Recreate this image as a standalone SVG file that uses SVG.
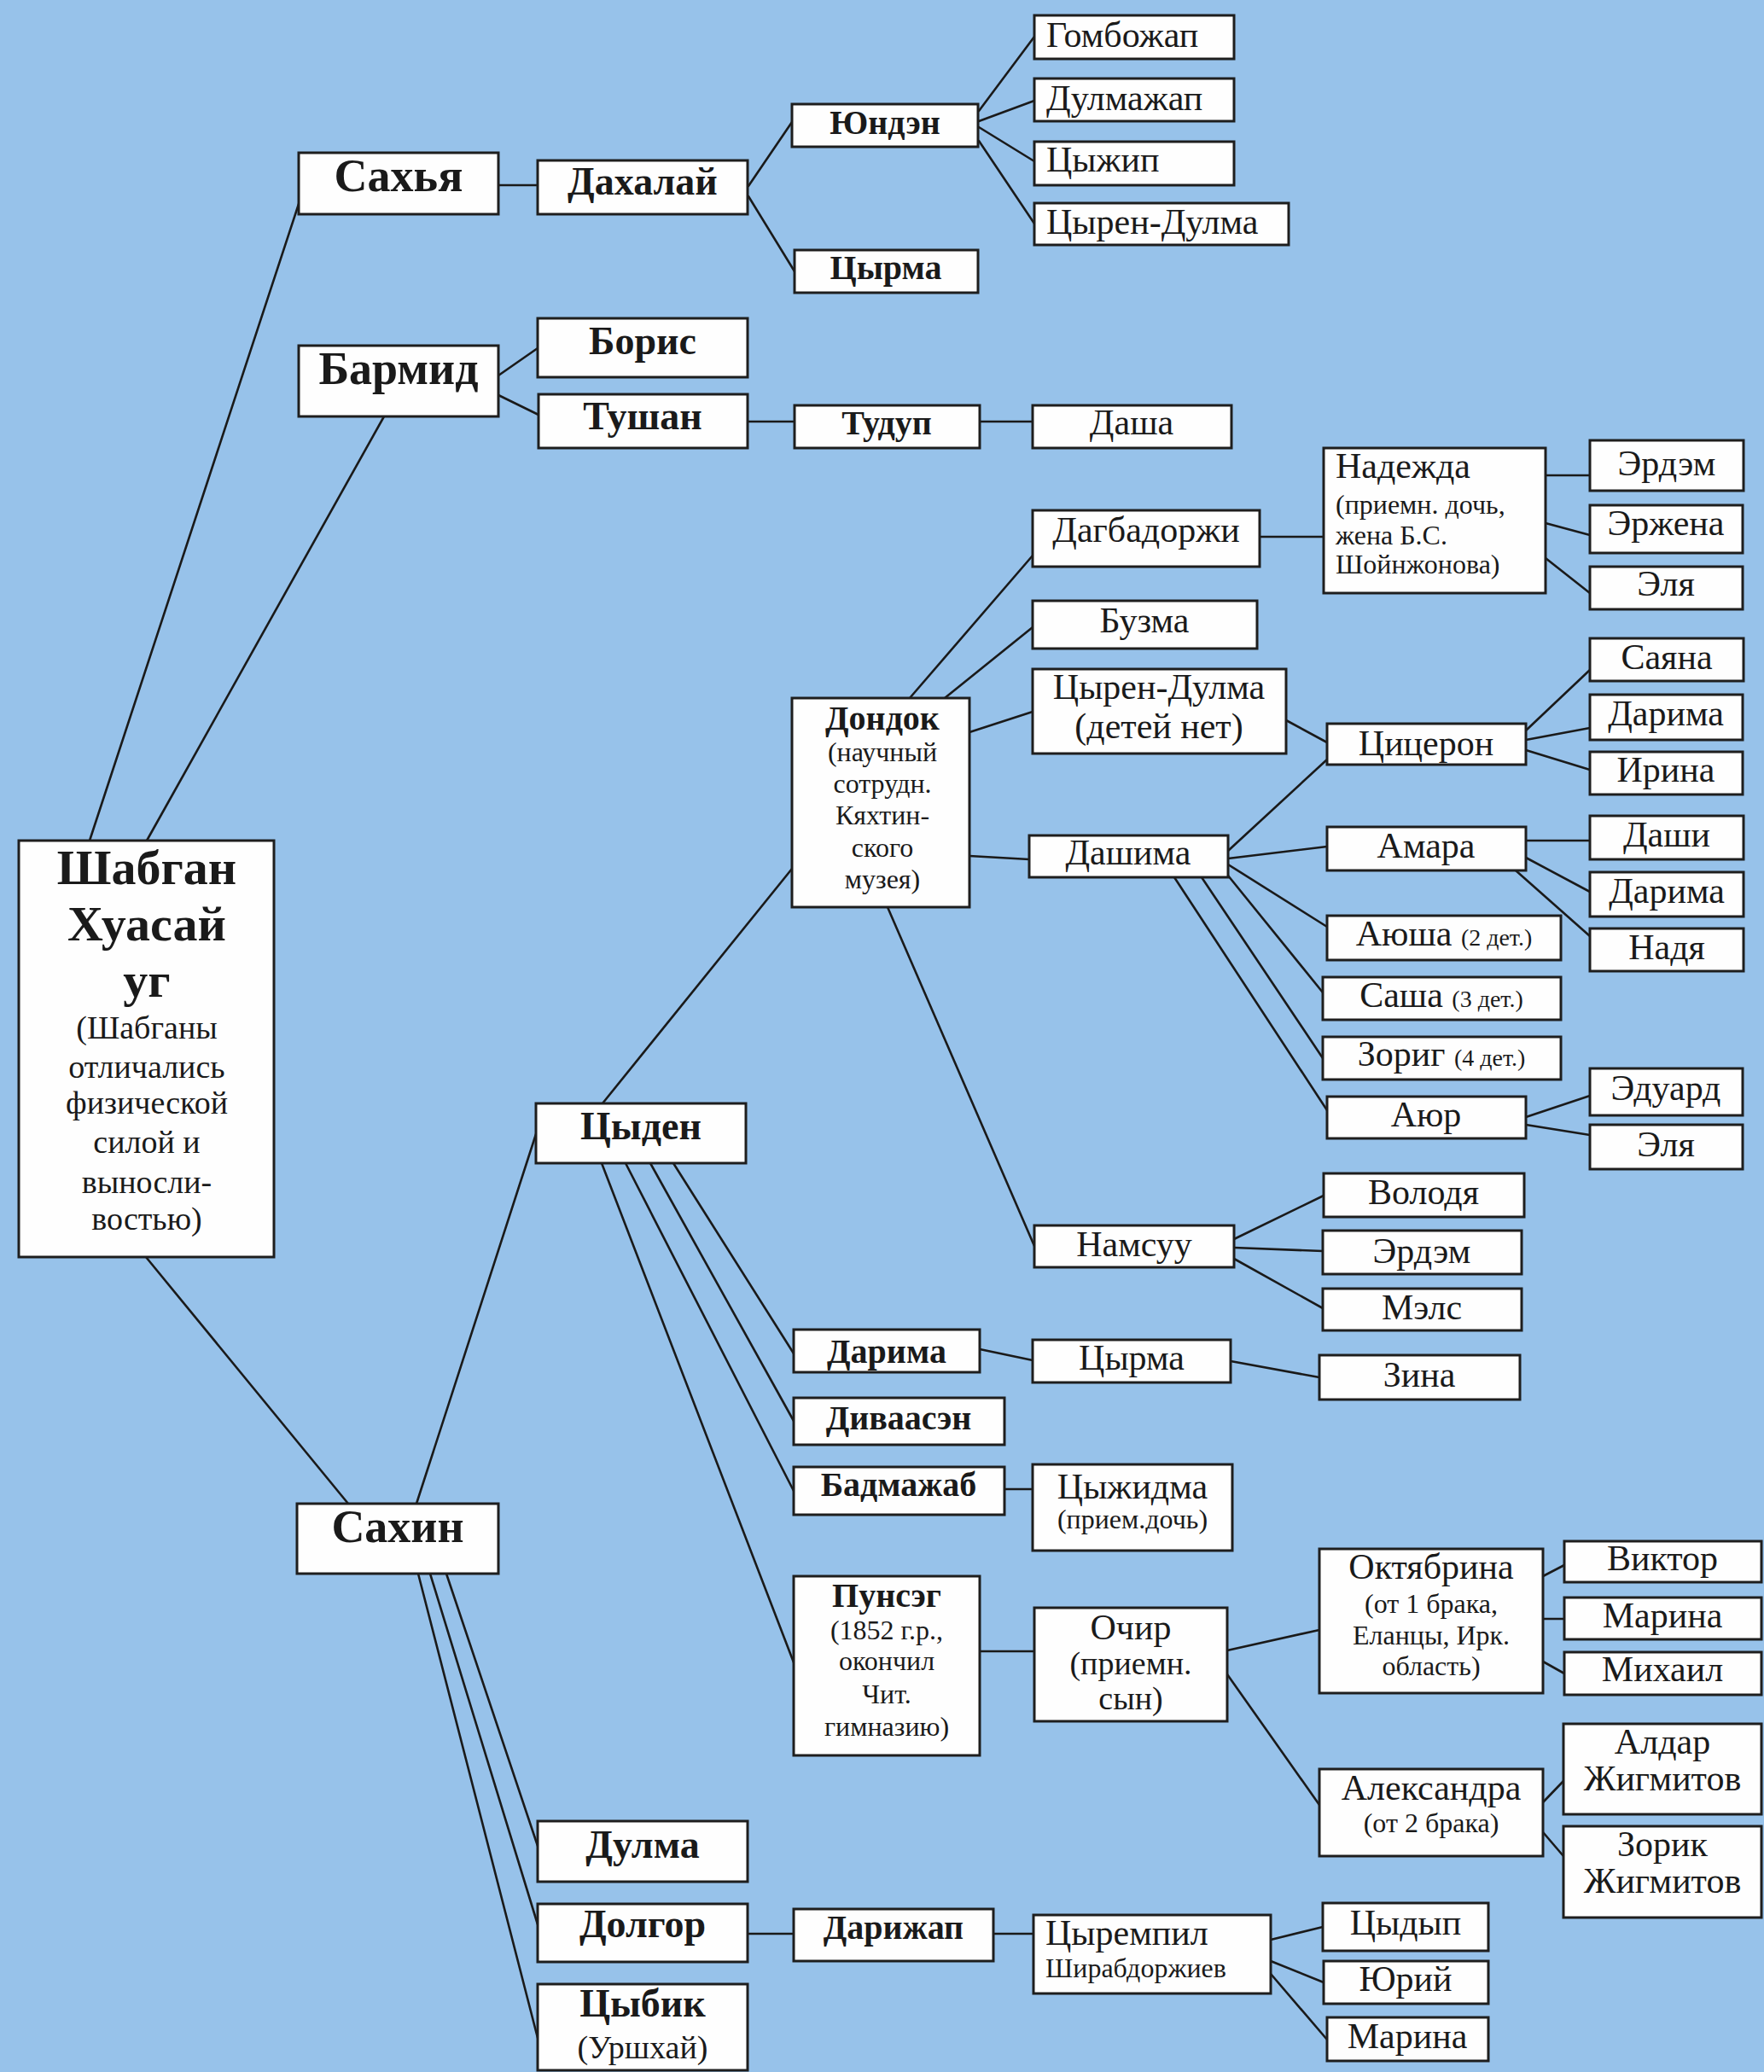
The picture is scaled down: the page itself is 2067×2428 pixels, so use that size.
<svg xmlns="http://www.w3.org/2000/svg" width="2067" height="2428" viewBox="0 0 2067 2428">
<style>
.bg{fill:#97c2ea}
.box{fill:#fefefe;stroke:#1e1e1e;stroke-width:3}
.ln{stroke:#1a1a1a;stroke-width:2.6;fill:none;stroke-linecap:round}
text{font-family:"Liberation Serif","DejaVu Serif",serif;fill:#1a1a1a}
.c{text-anchor:middle}
.t0{font-size:58px;font-weight:bold}
.t1{font-size:54px;font-weight:bold}
.t2{font-size:46px;font-weight:bold}
.t3{font-size:40px;font-weight:bold}
.n{font-size:42px}
.r{font-size:38px}
.s{font-size:32px}
.ss{font-size:28px}
</style>
<rect class="bg" x="0" y="0" width="2067" height="2428"/>
<g id="connectors">
<path class="ln" d="M105,985 L350,239"/>
<path class="ln" d="M172,985 L450,488"/>
<path class="ln" d="M171,1473 L408,1762"/>
<path class="ln" d="M584,217 L630,217"/>
<path class="ln" d="M877,218 L928,143"/>
<path class="ln" d="M877,230 L931,318"/>
<path class="ln" d="M1147,130 L1212,43"/>
<path class="ln" d="M1147,142 L1212,118"/>
<path class="ln" d="M1147,149 L1212,189"/>
<path class="ln" d="M1147,165 L1212,262"/>
<path class="ln" d="M584,440 L630,408"/>
<path class="ln" d="M584,463 L631,486"/>
<path class="ln" d="M876,494 L931,494"/>
<path class="ln" d="M1148,494 L1210,494"/>
<path class="ln" d="M488,1762 L628,1329"/>
<path class="ln" d="M706,1293 L928,1018"/>
<path class="ln" d="M1066,818 L1210,651"/>
<path class="ln" d="M1107,818 L1210,735"/>
<path class="ln" d="M1136,858 L1210,834"/>
<path class="ln" d="M1136,1003 L1206,1007"/>
<path class="ln" d="M1040,1063 L1212,1460"/>
<path class="ln" d="M1476,629 L1551,629"/>
<path class="ln" d="M1811,557 L1863,557"/>
<path class="ln" d="M1811,613 L1863,627"/>
<path class="ln" d="M1811,654 L1863,695"/>
<path class="ln" d="M1507,844 L1555,870"/>
<path class="ln" d="M1788,856 L1863,785"/>
<path class="ln" d="M1788,867 L1863,853"/>
<path class="ln" d="M1788,879 L1863,902"/>
<path class="ln" d="M1439,997 L1555,890"/>
<path class="ln" d="M1439,1006 L1555,992"/>
<path class="ln" d="M1439,1013 L1555,1086"/>
<path class="ln" d="M1439,1026 L1550,1163"/>
<path class="ln" d="M1408,1028 L1550,1240"/>
<path class="ln" d="M1376,1028 L1555,1301"/>
<path class="ln" d="M1788,985 L1863,985"/>
<path class="ln" d="M1788,1005 L1863,1045"/>
<path class="ln" d="M1776,1020 L1863,1097"/>
<path class="ln" d="M1788,1309 L1863,1284"/>
<path class="ln" d="M1788,1318 L1863,1330"/>
<path class="ln" d="M1446,1452 L1551,1401"/>
<path class="ln" d="M1446,1462 L1550,1466"/>
<path class="ln" d="M1446,1475 L1550,1533"/>
<path class="ln" d="M789,1363 L930,1586"/>
<path class="ln" d="M762,1363 L930,1665"/>
<path class="ln" d="M733,1363 L930,1747"/>
<path class="ln" d="M705,1363 L930,1948"/>
<path class="ln" d="M1148,1581 L1210,1594"/>
<path class="ln" d="M1442,1595 L1546,1614"/>
<path class="ln" d="M1177,1745 L1210,1745"/>
<path class="ln" d="M1148,1935 L1212,1935"/>
<path class="ln" d="M1438,1934 L1546,1910"/>
<path class="ln" d="M1438,1962 L1546,2115"/>
<path class="ln" d="M1808,1847 L1833,1834"/>
<path class="ln" d="M1808,1897 L1833,1897"/>
<path class="ln" d="M1808,1947 L1833,1961"/>
<path class="ln" d="M1808,2112 L1832,2087"/>
<path class="ln" d="M1808,2147 L1832,2175"/>
<path class="ln" d="M523,1844 L630,2163"/>
<path class="ln" d="M504,1844 L630,2255"/>
<path class="ln" d="M490,1844 L630,2388"/>
<path class="ln" d="M876,2266 L930,2266"/>
<path class="ln" d="M1164,2266 L1211,2266"/>
<path class="ln" d="M1489,2273 L1550,2258"/>
<path class="ln" d="M1489,2298 L1551,2323"/>
<path class="ln" d="M1489,2313 L1555,2390"/>
</g>
<g id="root"><rect class="box" x="22" y="985" width="299" height="488"/>
<text class="c t0" x="172" y="1036">Шабган</text>
<text class="c t0" x="172" y="1102">Хуасай</text>
<text class="c t0" x="172" y="1168">уг</text>
<text class="c r" x="172" y="1217">(Шабганы</text>
<text class="c r" x="172" y="1263">отличались</text>
<text class="c r" x="172" y="1305">физической</text>
<text class="c r" x="172" y="1351">силой и</text>
<text class="c r" x="172" y="1398">выносли-</text>
<text class="c r" x="172" y="1441">востью)</text></g>
<g id="sakhya"><rect class="box" x="350" y="179" width="234" height="72"/><text class="c t1" x="467" y="224">Сахья</text></g>
<g id="barmid"><rect class="box" x="350" y="405" width="234" height="83"/><text class="c t1" x="467" y="450">Бармид</text></g>
<g id="sakhin"><rect class="box" x="348" y="1762" width="236" height="82"/><text class="c t1" x="466" y="1807">Сахин</text></g>
<g id="dakhalay"><rect class="box" x="630" y="188" width="246" height="63"/><text class="c t2" x="753" y="228">Дахалай</text></g>
<g id="boris"><rect class="box" x="630" y="373" width="246" height="69"/><text class="c t2" x="753" y="415">Борис</text></g>
<g id="tushan"><rect class="box" x="631" y="462" width="245" height="63"/><text class="c t2" x="753" y="503">Тушан</text></g>
<g id="tsyden"><rect class="box" x="628" y="1293" width="246" height="70"/><text class="c t2" x="751" y="1335">Цыден</text></g>
<g id="dulma"><rect class="box" x="630" y="2134" width="246" height="71"/><text class="c t2" x="753" y="2177">Дулма</text></g>
<g id="dolgor"><rect class="box" x="630" y="2231" width="246" height="68"/><text class="c t2" x="753" y="2270">Долгор</text></g>
<g id="tsybik"><rect class="box" x="630" y="2325" width="246" height="101"/><text class="c t2" x="753" y="2363">Цыбик</text><text class="c r" x="753" y="2412">(Уршхай)</text></g>
<g id="yunden"><rect class="box" x="928" y="122" width="218" height="50"/><text class="c t3" x="1037" y="157">Юндэн</text></g>
<g id="tsyrma1"><rect class="box" x="931" y="293" width="215" height="50"/><text class="c t3" x="1038" y="327">Цырма</text></g>
<g id="tudup"><rect class="box" x="931" y="475" width="217" height="50"/><text class="c t3" x="1039" y="509">Тудуп</text></g>
<g id="dasha"><rect class="box" x="1210" y="475" width="233" height="50"/><text class="c n" x="1326" y="509">Даша</text></g>
<g id="gombozhap"><rect class="box" x="1212" y="18" width="234" height="51"/><text class="n" x="1226" y="55">Гомбожап</text></g>
<g id="dulmazhap"><rect class="box" x="1212" y="92" width="234" height="50"/><text class="n" x="1226" y="129">Дулмажап</text></g>
<g id="tsyzhip"><rect class="box" x="1212" y="166" width="234" height="51"/><text class="n" x="1226" y="201">Цыжип</text></g>
<g id="tsyren-dulma1"><rect class="box" x="1212" y="238" width="298" height="49"/><text class="n" x="1226" y="274">Цырен-Дулма</text></g>
<g id="dondok"><rect class="box" x="928" y="818" width="208" height="245"/>
<text class="c t3" x="1034" y="855">Дондок</text>
<text class="c s" x="1034" y="892">(научный</text>
<text class="c s" x="1034" y="929">сотрудн.</text>
<text class="c s" x="1034" y="966">Кяхтин-</text>
<text class="c s" x="1034" y="1004">ского</text>
<text class="c s" x="1034" y="1041">музея)</text></g>
<g id="dagbadorzhi"><rect class="box" x="1210" y="598" width="266" height="66"/><text class="c n" x="1343" y="635">Дагбадоржи</text></g>
<g id="buzma"><rect class="box" x="1210" y="704" width="263" height="56"/><text class="c n" x="1341" y="741">Бузма</text></g>
<g id="tsyren-dulma2"><rect class="box" x="1210" y="784" width="297" height="99"/><text class="c n" x="1358" y="819">Цырен-Дулма</text><text class="c n" x="1358" y="865">(детей нет)</text></g>
<g id="dashima"><rect class="box" x="1206" y="979" width="233" height="49"/><text class="c n" x="1322" y="1013">Дашима</text></g>
<g id="namsuu"><rect class="box" x="1212" y="1436" width="234" height="49"/><text class="c n" x="1329" y="1472">Намсуу</text></g>
<g id="nadezhda"><rect class="box" x="1551" y="525" width="260" height="170"/>
<text class="n" x="1565" y="560">Надежда</text>
<text class="s" x="1565" y="602">(приемн. дочь,</text>
<text class="s" x="1565" y="638">жена Б.С.</text>
<text class="s" x="1565" y="672">Шойнжонова)</text></g>
<g id="erdem1"><rect class="box" x="1863" y="516" width="180" height="59"/><text class="c n" x="1953" y="557">Эрдэм</text></g>
<g id="erzhena"><rect class="box" x="1863" y="592" width="179" height="56"/><text class="c n" x="1952" y="627">Эржена</text></g>
<g id="elya1"><rect class="box" x="1863" y="664" width="179" height="50"/><text class="c n" x="1952" y="698">Эля</text></g>
<g id="tsitseron"><rect class="box" x="1555" y="848" width="233" height="48"/><text class="c n" x="1671" y="885">Цицерон</text></g>
<g id="sayana"><rect class="box" x="1863" y="748" width="180" height="50"/><text class="c n" x="1953" y="784">Саяна</text></g>
<g id="darima-r1"><rect class="box" x="1863" y="814" width="179" height="53"/><text class="c n" x="1952" y="850">Дарима</text></g>
<g id="irina"><rect class="box" x="1863" y="881" width="179" height="50"/><text class="c n" x="1952" y="916">Ирина</text></g>
<g id="amara"><rect class="box" x="1555" y="969" width="233" height="51"/><text class="c n" x="1671" y="1005">Амара</text></g>
<g id="dashi"><rect class="box" x="1863" y="956" width="180" height="51"/><text class="c n" x="1953" y="992">Даши</text></g>
<g id="darima-r2"><rect class="box" x="1863" y="1022" width="180" height="52"/><text class="c n" x="1953" y="1058">Дарима</text></g>
<g id="nadya"><rect class="box" x="1863" y="1088" width="180" height="50"/><text class="c n" x="1953" y="1124">Надя</text></g>
<g id="ayusha"><rect class="box" x="1555" y="1073" width="274" height="52"/><text class="c n" x="1692" y="1108">Аюша <tspan class="ss">(2 дет.)</tspan></text></g>
<g id="sasha"><rect class="box" x="1550" y="1145" width="279" height="50"/><text class="c n" x="1689" y="1180">Саша <tspan class="ss">(3 дет.)</tspan></text></g>
<g id="zorig"><rect class="box" x="1550" y="1215" width="279" height="50"/><text class="c n" x="1689" y="1249">Зориг <tspan class="ss">(4 дет.)</tspan></text></g>
<g id="ayur"><rect class="box" x="1555" y="1285" width="233" height="49"/><text class="c n" x="1671" y="1320">Аюр</text></g>
<g id="eduard"><rect class="box" x="1863" y="1252" width="179" height="55"/><text class="c n" x="1952" y="1289">Эдуард</text></g>
<g id="elya2"><rect class="box" x="1863" y="1318" width="179" height="52"/><text class="c n" x="1952" y="1355">Эля</text></g>
<g id="volodya"><rect class="box" x="1551" y="1375" width="235" height="51"/><text class="c n" x="1668" y="1411">Володя</text></g>
<g id="erdem2"><rect class="box" x="1550" y="1442" width="233" height="51"/><text class="c n" x="1666" y="1480">Эрдэм</text></g>
<g id="mels"><rect class="box" x="1550" y="1510" width="233" height="49"/><text class="c n" x="1666" y="1546">Мэлс</text></g>
<g id="darima-t"><rect class="box" x="930" y="1558" width="218" height="50"/><text class="c t3" x="1039" y="1597">Дарима</text></g>
<g id="divaasen"><rect class="box" x="930" y="1638" width="247" height="55"/><text class="c t3" x="1053" y="1675">Диваасэн</text></g>
<g id="badmazhab"><rect class="box" x="930" y="1719" width="247" height="56"/><text class="c t3" x="1053" y="1753">Бадмажаб</text></g>
<g id="punseg"><rect class="box" x="930" y="1847" width="218" height="210"/>
<text class="c t3" x="1039" y="1883">Пунсэг</text>
<text class="c s" x="1039" y="1921">(1852 г.р.,</text>
<text class="c s" x="1039" y="1957">окончил</text>
<text class="c s" x="1039" y="1996">Чит.</text>
<text class="c s" x="1039" y="2034">гимназию)</text></g>
<g id="tsyrma2"><rect class="box" x="1210" y="1570" width="232" height="50"/><text class="c n" x="1326" y="1605">Цырма</text></g>
<g id="zina"><rect class="box" x="1546" y="1588" width="235" height="52"/><text class="c n" x="1663" y="1625">Зина</text></g>
<g id="tsyzhidma"><rect class="box" x="1210" y="1716" width="234" height="101"/><text class="c n" x="1327" y="1756">Цыжидма</text><text class="c s" x="1327" y="1791">(прием.дочь)</text></g>
<g id="ochir"><rect class="box" x="1212" y="1884" width="226" height="133"/><text class="c n" x="1325" y="1921">Очир</text><text class="c r" x="1325" y="1962">(приемн.</text><text class="c r" x="1325" y="2003">сын)</text></g>
<g id="oktyabrina"><rect class="box" x="1546" y="1815" width="262" height="169"/>
<text class="c n" x="1677" y="1850">Октябрина</text>
<text class="c s" x="1677" y="1890">(от 1 брака,</text>
<text class="c s" x="1677" y="1927">Еланцы, Ирк.</text>
<text class="c s" x="1677" y="1963">область)</text></g>
<g id="viktor"><rect class="box" x="1833" y="1806" width="231" height="48"/><text class="c n" x="1948" y="1840">Виктор</text></g>
<g id="marina1"><rect class="box" x="1833" y="1872" width="231" height="49"/><text class="c n" x="1948" y="1907">Марина</text></g>
<g id="mikhail"><rect class="box" x="1833" y="1936" width="231" height="50"/><text class="c n" x="1948" y="1970">Михаил</text></g>
<g id="aleksandra"><rect class="box" x="1546" y="2073" width="262" height="102"/><text class="c n" x="1677" y="2109">Александра</text><text class="c s" x="1677" y="2147">(от 2 брака)</text></g>
<g id="aldar"><rect class="box" x="1832" y="2020" width="232" height="106"/><text class="c n" x="1948" y="2055">Алдар</text><text class="c n" x="1948" y="2098">Жигмитов</text></g>
<g id="zorik"><rect class="box" x="1832" y="2140" width="232" height="107"/><text class="c n" x="1948" y="2175">Зорик</text><text class="c n" x="1948" y="2218">Жигмитов</text></g>
<g id="darizhap"><rect class="box" x="930" y="2237" width="234" height="61"/><text class="c t3" x="1047" y="2272">Дарижап</text></g>
<g id="tsyrempil"><rect class="box" x="1211" y="2244" width="278" height="92"/><text class="n" x="1225" y="2279">Цыремпил</text><text class="s" x="1225" y="2317">Ширабдоржиев</text></g>
<g id="tsydyp"><rect class="box" x="1550" y="2230" width="194" height="56"/><text class="c n" x="1647" y="2267">Цыдып</text></g>
<g id="yuriy"><rect class="box" x="1551" y="2298" width="193" height="50"/><text class="c n" x="1647" y="2333">Юрий</text></g>
<g id="marina2"><rect class="box" x="1555" y="2364" width="189" height="51"/><text class="c n" x="1649" y="2400">Марина</text></g>
</svg>
